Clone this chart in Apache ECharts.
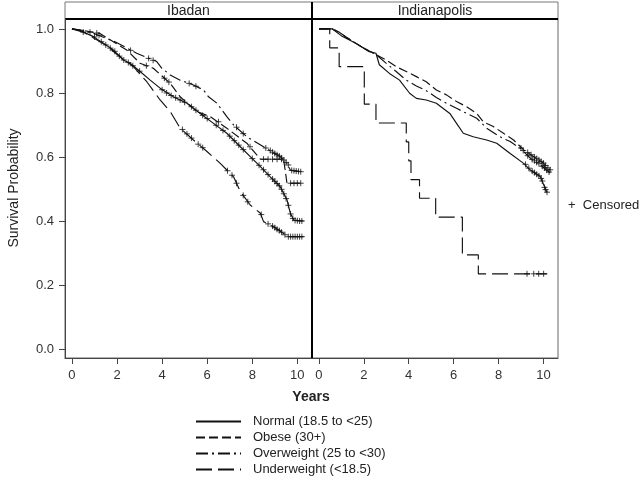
<!DOCTYPE html>
<html><head><meta charset="utf-8">
<script src="https://cdn.jsdelivr.net/npm/echarts@6/dist/echarts.min.js"></script>
<style>html,body{margin:0;padding:0;background:#fff}#c{width:640px;height:480px}</style>
</head><body><div id="c"></div>
<script>
const panels = ['Ibadan', 'Indianapolis'];
const groups = ['Normal (18.5 to <25)', 'Obese (30+)', 'Overweight (25 to <30)', 'Underweight (<18.5)'];
const xTicks = [0, 2, 4, 6, 8, 10];
const yTicks = [0, 0.2, 0.4, 0.6, 0.8, 1.0];

// Ibadan curves [years, survival]
const ibadanNormal = [[0,1],[0.36,0.995],[0.95,0.976],[1.84,0.934],[2.28,0.903],[2.58,0.893],[3.02,0.867],[3.47,0.84],[3.91,0.815],[4.5,0.788],[5.1,0.768],[5.69,0.736],[6.28,0.705],[6.87,0.674],[7.47,0.632],[7.91,0.601],[8.36,0.57],[8.8,0.538],[9.24,0.507],[9.54,0.466],[9.69,0.424],[9.84,0.403],[10.28,0.40]];
const ibadanObese = [[0,1],[0.5,0.995],[1.24,0.986],[1.69,0.966],[2.43,0.934],[3.02,0.893],[3.61,0.877],[4.36,0.83],[4.8,0.788],[5.54,0.742],[6.13,0.726],[6.87,0.69],[7.47,0.658],[7.76,0.643],[8.36,0.593],[9.39,0.593],[9.54,0.518],[10.21,0.518]];
const ibadanOverweight = [[0,1],[0.5,0.995],[1.0,0.985],[1.91,0.96],[2.87,0.924],[3.76,0.898],[3.99,0.877],[4.36,0.856],[4.8,0.84],[5.39,0.825],[5.84,0.809],[6.06,0.788],[6.43,0.768],[6.87,0.726],[7.17,0.70],[7.76,0.663],[8.5,0.632],[9.24,0.601],[9.54,0.58],[9.69,0.559],[10.21,0.553]];
const ibadanUnderweight = [[0,1],[0.5,0.99],[1.0,0.97],[1.5,0.95],[2.0,0.92],[2.73,0.882],[3.32,0.835],[3.91,0.778],[4.36,0.742],[4.8,0.69],[5.39,0.653],[5.99,0.617],[6.58,0.58],[7.17,0.538],[7.47,0.492],[7.91,0.45],[8.36,0.424],[8.5,0.398],[8.95,0.382],[9.39,0.361],[9.54,0.351],[10.28,0.351]];

// Indianapolis curves
const indyNormal = [[0,1],[0.6,1.0],[1.05,0.976],[1.64,0.955],[2.24,0.929],[2.54,0.924],[2.69,0.888],[3.14,0.861],[3.59,0.84],[4.04,0.799],[4.34,0.783],[4.78,0.778],[5.23,0.768],[5.83,0.736],[6.13,0.705],[6.43,0.674],[6.87,0.663],[7.47,0.653],[7.92,0.643],[8.52,0.611],[9.12,0.58],[9.42,0.559],[9.87,0.538],[10.01,0.513],[10.16,0.49]];
const indyObese = [[0,1],[0.6,1.0],[0.9,0.99],[1.2,0.975],[1.64,0.955],[2.0,0.94],[2.54,0.92],[2.99,0.903],[3.44,0.882],[3.89,0.867],[4.34,0.851],[4.78,0.835],[5.23,0.809],[5.68,0.794],[6.13,0.773],[6.58,0.757],[7.03,0.736],[7.32,0.71],[7.77,0.695],[8.22,0.674],[8.67,0.653],[9.12,0.622],[9.57,0.601],[10.01,0.58],[10.31,0.559]];
const indyOverweight = [[0,1],[0.6,1.0],[0.9,0.99],[1.2,0.975],[1.64,0.955],[2.0,0.94],[2.54,0.92],[2.99,0.893],[3.44,0.867],[3.89,0.84],[4.34,0.822],[4.78,0.807],[5.23,0.786],[5.68,0.768],[6.13,0.752],[6.58,0.736],[7.03,0.721],[7.47,0.69],[8.07,0.663],[8.52,0.648],[8.97,0.627],[9.42,0.596],[9.87,0.575],[10.31,0.549]];
const indyUnderweight = [[0,1],[0.48,0.941],[0.9,0.882],[2.02,0.765],[2.54,0.706],[3.89,0.647],[4.0,0.588],[4.1,0.529],[4.48,0.471],[5.2,0.412],[6.39,0.294],[7.1,0.235],[10.17,0.235]];

// Censored observations [years, survival]
const ibadanNormalCens = [[0.5,0.99],[1.0,0.975],[1.3,0.96],[1.5,0.95],[1.7,0.94],[1.9,0.93],[2.1,0.915],[2.3,0.903],[2.5,0.895],[2.7,0.885],[3.0,0.868],[4.0,0.81],[4.2,0.8],[4.4,0.792],[4.6,0.785],[4.8,0.778],[5.0,0.771],[5.3,0.757],[5.5,0.746],[5.8,0.73],[6.0,0.72],[6.4,0.699],[6.7,0.683],[7.0,0.665],[7.2,0.651],[7.4,0.637],[7.6,0.623],[8.0,0.595],[8.3,0.574],[8.5,0.56],[8.7,0.545],[8.9,0.531],[9.0,0.524],[9.1,0.517],[9.2,0.51],[9.3,0.499],[9.4,0.485],[9.5,0.47],[9.6,0.449],[9.7,0.422],[9.8,0.408],[9.9,0.402],[10.0,0.401],[10.1,0.40],[10.2,0.40]];
const ibadanObeseCens = [[1.1,0.987],[3.3,0.885],[4.1,0.846],[4.3,0.834],[6.5,0.71],[7.9,0.632],[8.5,0.593],[8.7,0.593],[8.9,0.593],[9.1,0.593],[9.3,0.593],[9.7,0.518],[9.85,0.518],[10.0,0.518],[10.15,0.518]];
const ibadanOverweightCens = [[0.8,0.99],[1.2,0.98],[2.6,0.933],[3.4,0.908],[3.6,0.902],[5.2,0.83],[5.5,0.821],[7.3,0.693],[7.6,0.673],[8.6,0.628],[8.8,0.62],[8.9,0.615],[9.0,0.611],[9.1,0.607],[9.2,0.603],[9.3,0.597],[9.4,0.59],[9.5,0.583],[9.6,0.575],[9.75,0.558],[9.85,0.557],[9.95,0.556],[10.05,0.555],[10.15,0.554]];
const ibadanUnderweightCens = [[4.9,0.686],[5.1,0.672],[5.3,0.659],[5.6,0.64],[5.8,0.629],[6.9,0.557],[7.1,0.543],[7.3,0.518],[7.6,0.48],[7.8,0.46],[8.4,0.42],[8.7,0.391],[8.9,0.384],[9.0,0.379],[9.1,0.374],[9.2,0.37],[9.3,0.365],[9.45,0.357],[9.6,0.351],[9.7,0.351],[9.8,0.351],[9.9,0.351],[10.0,0.351],[10.1,0.351],[10.2,0.351]];
const indyNormalCens = [[9.2,0.577],[9.35,0.565],[9.5,0.556],[9.6,0.551],[9.7,0.546],[9.8,0.541],[9.9,0.533],[9.95,0.525],[10.05,0.505],[10.1,0.498],[10.16,0.49]];
const indyObeseCens = [[9.0,0.628],[9.3,0.614],[9.45,0.607],[9.6,0.6],[9.7,0.595],[9.8,0.591],[9.9,0.586],[10.0,0.581],[10.1,0.573],[10.2,0.566],[10.3,0.56]];
const indyOverweightCens = [[9.1,0.62],[9.3,0.604],[9.5,0.592],[9.6,0.588],[9.7,0.583],[9.8,0.579],[9.95,0.571],[10.05,0.566],[10.15,0.559],[10.25,0.553]];
const indyUnderweightCens = [[9.27,0.235],[9.57,0.235],[9.79,0.235],[10.01,0.235]];

const curves = [
  [ibadanNormal, ibadanObese, ibadanOverweight, ibadanUnderweight],
  [indyNormal, indyObese, indyOverweight, indyUnderweight]
];
const censored = [
  [ibadanNormalCens, ibadanObeseCens, ibadanOverweightCens, ibadanUnderweightCens],
  [indyNormalCens, indyObeseCens, indyOverweightCens, indyUnderweightCens]
];

const dashes = ['solid', [9, 4], [12, 4, 2, 4], [16, 6]];
const FONT = '"Liberation Sans", Arial, Helvetica, sans-serif';
const plusPath = 'path://M0,5L10,5M5,0L5,10';

const series = [];
for (let p = 0; p < 2; p++) {
  for (let g = 0; g < 4; g++) {
    series.push({
      type: 'line', name: groups[g], xAxisIndex: p, yAxisIndex: p,
      data: curves[p][g], symbol: 'none', silent: true,
      step: (p === 1 && g === 3) ? 'end' : false,
      lineStyle: { color: '#111', width: 1.15, type: dashes[g] },
      itemStyle: { color: '#111' }
    });
  }
  for (let g = 0; g < 4; g++) {
    series.push({
      type: 'scatter', name: 'Censored', xAxisIndex: p, yAxisIndex: p,
      data: censored[p][g], symbol: plusPath, symbolSize: 6, silent: true,
      itemStyle: { color: 'rgba(0,0,0,0)', borderColor: '#111', borderWidth: 1 }
    });
  }
}

function xAxis(i) {
  return {
    type: 'value', gridIndex: i, min: -0.31, max: 10.65,
    axisLine: { show: true, onZero: false, lineStyle: { color: '#444', width: 1 } },
    axisTick: { show: true, length: 6, customValues: xTicks, lineStyle: { color: '#444' } },
    axisLabel: { customValues: xTicks, margin: 11, fontSize: 13, color: '#333', fontFamily: FONT },
    splitLine: { show: false }
  };
}
function yAxis(i) {
  return {
    type: 'value', gridIndex: i, min: -0.028, max: 1.031,
    axisLine: { show: true, onZero: false, lineStyle: { color: i === 0 ? '#444' : '#000', width: i === 0 ? 1 : 2 } },
    axisTick: { show: i === 0, length: 6, customValues: yTicks, lineStyle: { color: '#444' } },
    axisLabel: { show: i === 0, customValues: yTicks, margin: 11, fontSize: 13, color: '#333', fontFamily: FONT,
      formatter: v => v.toFixed(1) },
    splitLine: { show: false }
  };
}

const option = {
  animation: false,
  backgroundColor: '#fff',
  grid: [
    { left: 65, top: 19, width: 247, height: 339, show: true, borderColor: '#666', borderWidth: 1 },
    { left: 312, top: 19, width: 246, height: 339, show: true, borderColor: '#666', borderWidth: 1 }
  ],
  xAxis: [xAxis(0), xAxis(1)],
  yAxis: [yAxis(0), yAxis(1)],
  legend: {
    data: groups, orient: 'vertical', left: 195, top: 415, padding: 0,
    itemWidth: 45, itemHeight: 12, itemGap: 3,
    itemStyle: { opacity: 0 },
    textStyle: { fontSize: 13, color: '#222', fontFamily: FONT, padding: [0, 0, 0, 7] },
    selectedMode: false
  },
  graphic: [
    { type: 'rect', shape: { x: 65, y: 2, width: 493, height: 17 }, style: { fill: 'none', stroke: '#777', lineWidth: 1 } },
    { type: 'line', shape: { x1: 65, y1: 19, x2: 558, y2: 19 }, style: { stroke: '#000', lineWidth: 2 } },
    { type: 'line', shape: { x1: 312, y1: 2, x2: 312, y2: 358 }, style: { stroke: '#000', lineWidth: 2 } },
    { type: 'text', x: 188.5, y: 11, style: { text: panels[0], font: '14px ' + FONT, fill: '#222', align: 'center', verticalAlign: 'middle' } },
    { type: 'text', x: 435, y: 11, style: { text: panels[1], font: '14px ' + FONT, fill: '#222', align: 'center', verticalAlign: 'middle' } },
    { type: 'text', x: 14, y: 188, rotation: Math.PI / 2, style: { text: 'Survival Probability', font: '14px ' + FONT, fill: '#222', align: 'center', verticalAlign: 'middle' } },
    { type: 'text', x: 311, y: 397, style: { text: 'Years', font: 'bold 14px ' + FONT, fill: '#222', align: 'center', verticalAlign: 'middle' } },
    { type: 'text', x: 568, y: 205, style: { text: '+  Censored', font: '13px ' + FONT, fill: '#222', align: 'left', verticalAlign: 'middle' } }
  ],
  series: series
};

const chart = echarts.init(document.getElementById('c'), null, { renderer: 'canvas' });
chart.setOption(option);
</script>
</body></html>
